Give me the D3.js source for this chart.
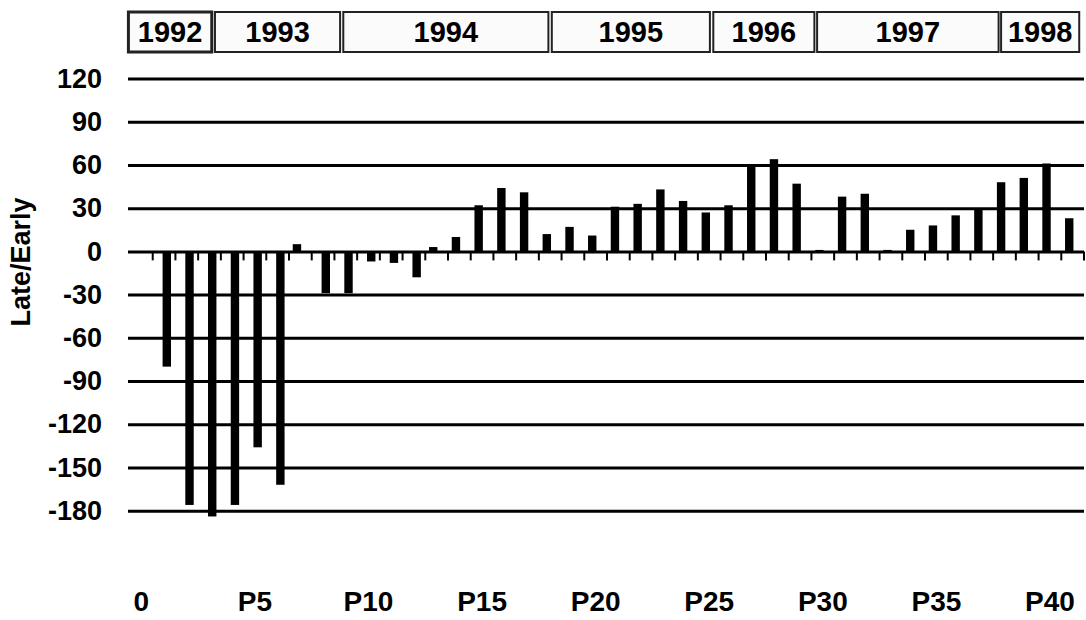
<!DOCTYPE html>
<html>
<head>
<meta charset="utf-8">
<script src="https://cdn.jsdelivr.net/npm/d3@7/dist/d3.min.js"></script>
<style>
  html, body { margin: 0; padding: 0; background: #fff; }
  svg { display: block; }
  text { font-family: "Liberation Sans", Arial, Helvetica, sans-serif; font-weight: bold; fill: #000; }
</style>
</head>
<body>
<svg id="chart" width="1086" height="620"></svg>
<script>
// ---- data ----
const categories = ["0","P1","P2","P3","P4","P5","P6","P7","P8","P9","P10",
  "P11","P12","P13","P14","P15","P16","P17","P18","P19","P20",
  "P21","P22","P23","P24","P25","P26","P27","P28","P29","P30",
  "P31","P32","P33","P34","P35","P36","P37","P38","P39","P40","P41"];
const values = [null,-80,-176,-184,-176,-136,-162,5,-29,-29,-7,
  -8,-18,3,10,32,44,41,12,17,11,
  31,33,43,35,27,32,60,64,47,1,
  38,40,1,15,18,25,29,48,51,61,23];
const seriesNames = ["Late","Early"];
const yTicks = [120,90,60,30,0,-30,-60,-90,-120,-150,-180];
const xTickLabels = ["0","P5","P10","P15","P20","P25","P30","P35","P40"];
const years = ["1992","1993","1994","1995","1996","1997","1998"];
const yearStart = [-0.07, 3.74, 9.39, 18.57, 25.68, 30.25, 38.35];
const yearEnd   = [3.6, 9.25, 18.42, 25.53, 30.13, 38.24, 41.79];
const axisTitle = "Late/Early";

// ---- layout ----
const svg = d3.select("#chart");
const plotLeft = 130, plotRight = 1084;

const x = d3.scaleBand().domain(categories).range([plotLeft, plotRight]).padding(0);
const bw = x.bandwidth();
const x1 = d3.scalePoint().domain(seriesNames).range([0.35 * bw, 0.62 * bw]);
const barW = 0.37 * bw;
const xi = d3.scaleLinear().domain([0, categories.length]).range([plotLeft, plotRight]);
const y = d3.scaleLinear().domain([-180, 120]).range([510.7, 78.5]);

// gridlines + y labels
const yAxis = d3.axisLeft(y).tickValues(yTicks).tickSize(-(plotRight - plotLeft + 2)).tickPadding(26)
  .tickFormat(d => String(d));
const gy = svg.append("g").attr("transform", `translate(${plotLeft - 2},0)`).call(yAxis);
gy.select(".domain").remove();
gy.selectAll(".tick line").attr("stroke", "#000").attr("stroke-width", 3);
gy.selectAll(".tick text").style("font-size", "27px").attr("fill", "#000");

// y title
svg.append("text")
  .attr("transform", `translate(30,262) rotate(-90)`)
  .attr("text-anchor", "middle")
  .style("font-size", "27px")
  .text(axisTitle);

// zero-line ticks at category boundaries
const boundaries = categories.slice(1).map(c => x(c)).concat([plotRight]);
svg.append("g").selectAll("line").data(boundaries).join("line")
  .attr("x1", d => d).attr("x2", d => d)
  .attr("y1", y(0)).attr("y2", y(0) + 9)
  .attr("stroke", "#000").attr("stroke-width", 2);

// bars
const barData = categories.map((c, i) => ({ c, v: values[i] })).filter(d => d.v !== null);
svg.append("g").selectAll("rect").data(barData).join("rect")
  .attr("x", d => x(d.c) + x1(d.v >= 0 ? "Late" : "Early") - barW / 2)
  .attr("width", barW)
  .attr("y", d => y(Math.max(0, d.v)))
  .attr("height", d => Math.abs(y(d.v) - y(0)))
  .attr("fill", "#000");

// bottom labels
const xAxis = d3.axisBottom(x).tickValues(xTickLabels).tickSize(0).tickPadding(0);
const gx = svg.append("g").attr("transform", `translate(0,591)`).call(xAxis);
gx.select(".domain").remove();
gx.selectAll(".tick text").style("font-size", "28px").attr("fill", "#000");

// year boxes
const yearData = years.map((yr, i) => ({ yr, s: yearStart[i], e: yearEnd[i] }));
const yb = svg.append("g").selectAll("g").data(yearData).join("g");
yb.append("rect")
  .attr("x", d => xi(d.s)).attr("width", d => xi(d.e) - xi(d.s))
  .attr("y", 12).attr("height", 40)
  .attr("fill", "#fbfbfb").attr("stroke", "#222")
  .attr("stroke-width", (d, i) => i === 0 ? 3 : 2);
yb.append("text")
  .attr("x", d => (xi(d.s) + xi(d.e)) / 2)
  .attr("y", 32)
  .attr("dy", "0.36em")
  .attr("text-anchor", "middle")
  .style("font-size", "29px")
  .text(d => d.yr);
</script>
</body>
</html>
